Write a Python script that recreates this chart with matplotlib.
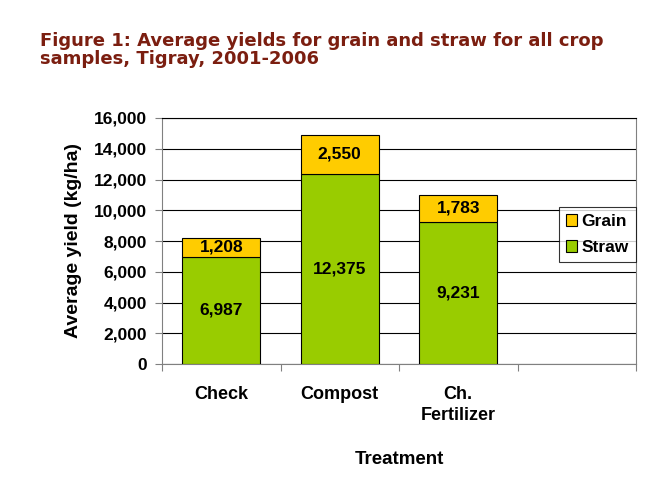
import numpy as np
import matplotlib.pyplot as plt
from matplotlib.ticker import FuncFormatter

# data
treatments = ["Check", "Compost", "Ch.\nFertilizer", ""]
straw = [6987, 12375, 9231, 0]
grain = [1208, 2550, 1783, 0]

plt.rcParams['font.family'] = ['Liberation Sans', 'DejaVu Sans']

fig = plt.figure(figsize=(6.58, 4.8), dpi=100)
ax = fig.add_axes([162/658, 1-364/480, (636-162)/658, (364-118)/480])

x = np.arange(len(treatments))
n = 3  # only the first three categories have bars
ax.bar(x[:n], straw[:n], width=0.66, color="#99CC00", edgecolor="black", linewidth=0.8,
       label="Straw", zorder=3)
ax.bar(x[:n], grain[:n], width=0.66, bottom=straw[:n], color="#FFCC00", edgecolor="black",
       linewidth=0.8, label="Grain", zorder=3)

# value labels
for i in range(n):
    ax.text(x[i], straw[i] / 2, f"{straw[i]:,}", ha="center", va="center",
            fontsize=12.5, fontweight="bold", zorder=4)
    ax.text(x[i], straw[i] + grain[i] / 2, f"{grain[i]:,}", ha="center", va="center",
            fontsize=12.5, fontweight="bold", zorder=4)

ax.set_xlim(-0.5, len(treatments) - 0.5)
ax.set_ylim(0, 16000)
ax.set_yticks(np.arange(0, 16001, 2000))
ax.yaxis.set_major_formatter(FuncFormatter(lambda v, p: f"{int(v):,}"))
ax.yaxis.grid(True, color="black", linewidth=0.8, zorder=0)
ax.set_axisbelow(True)

# category labels between boundary ticks
ax.set_xticks(np.arange(-0.5, len(treatments), 1.0))
ax.set_xticklabels([])
ax.set_xticks(x, minor=True)
ax.set_xticklabels(treatments, minor=True, fontsize=13, fontweight="bold", linespacing=1.3)
ax.tick_params(axis="x", which="minor", length=0, pad=16)
ax.tick_params(axis="x", which="major", length=5, direction="out", color="gray")
ax.tick_params(axis="y", length=5, color="gray", labelsize=12.5, pad=6)
for lab in ax.get_yticklabels():
    lab.set_fontweight("bold")

ax.spines["left"].set_color("gray")
ax.spines["bottom"].set_color("gray")
ax.spines["right"].set_color("gray")
ax.spines["top"].set_color("black")

ax.set_ylabel("Average yield (kg/ha)", fontsize=14, fontweight="bold", labelpad=8)
ax.set_xlabel("Treatment", fontsize=13.5, fontweight="bold", labelpad=19)

handles, labels = ax.get_legend_handles_labels()
leg = ax.legend(handles[::-1], labels[::-1], loc="upper left",
                bbox_to_anchor=((559-162)/474, 1-(207-118)/246),
                frameon=True, fancybox=False, edgecolor="black",
                fontsize=12.5, handlelength=0.65, handleheight=0.65,
                handletextpad=0.25, borderpad=0.4, labelspacing=0.65,
                borderaxespad=0)
leg.get_frame().set_linewidth(0.8)
for t in leg.get_texts():
    t.set_fontweight("bold")

fig.text(40/658, 1-50/480, "Figure 1: Average yields for grain and straw for all crop\nsamples, Tigray, 2001-2006",
         fontsize=13, fontweight="bold", family="DejaVu Sans", color="#7B1E10",
         va="center", ha="left", linespacing=1.05)

fig.savefig("out.png", dpi=100)
